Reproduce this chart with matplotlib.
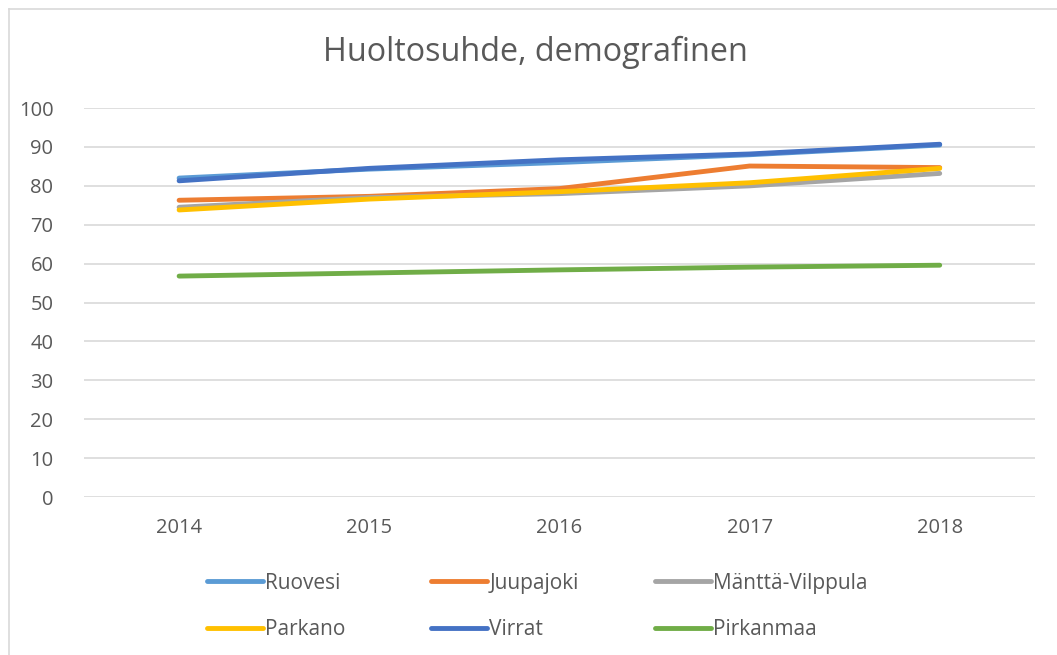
import matplotlib.pyplot as plt
from matplotlib.lines import Line2D

plt.rcParams['font.family'] = ['Open Sans', 'DejaVu Sans']

years = ['2014', '2015', '2016', '2017', '2018']
ruovesi = [82.0, 84.3, 86.0, 88.0, 90.5]
juupajoki = [76.3, 77.3, 79.3, 85.1, 84.7]
mantta = [74.5, 77.0, 78.0, 80.0, 83.2]
parkano = [73.8, 76.6, 78.5, 80.8, 84.5]
virrat = [81.3, 84.5, 86.7, 88.2, 90.7]
pirkanmaa = [56.8, 57.6, 58.4, 59.1, 59.6]

names = ['Ruovesi', 'Juupajoki', 'Mänttä-Vilppula', 'Parkano', 'Virrat', 'Pirkanmaa']
series = [ruovesi, juupajoki, mantta, parkano, virrat, pirkanmaa]
colors = ['#5b9bd5', '#ed7d31', '#a5a5a5', '#ffc000', '#4472c4', '#70ad47']

fig = plt.figure(figsize=(10.57, 6.55), dpi=100)
ax = fig.add_axes([0.0795, 0.2412, 0.8995, 0.5938])

x = range(len(years))
for vals, c in zip(series, colors):
    ax.plot(x, vals, color=c, lw=3.5, solid_capstyle='round', solid_joinstyle='round')

ax.set_xlim(-0.5, len(years) - 0.5)
ax.set_ylim(0, 100)
ax.set_yticks(range(0, 101, 10))
ax.set_xticks(list(x))
ax.set_xticklabels(years)
ax.grid(axis='y', color='#d9d9d9', lw=1.2)
ax.set_axisbelow(True)
for s in ax.spines.values():
    s.set_visible(False)
ax.tick_params(length=0, labelsize=14.5, colors='#595959')
ax.tick_params(axis='y', pad=22)
ax.tick_params(axis='x', pad=15)

fig.text(0.507, 0.92, 'Huoltosuhde, demografinen', ha='center', va='center',
         fontsize=23.3, color='#595959')

# legend: three columns, two rows each
col_x = [207, 431, 655]
for k in range(3):
    idx = [k, k + 3]
    hs = [Line2D([0], [0], color=colors[i], lw=3.5, solid_capstyle='round') for i in idx]
    fig.legend(hs, [names[i] for i in idx], loc='center left',
               bbox_to_anchor=(col_x[k] / 1057, 0.074), frameon=False,
               fontsize=15, labelcolor='#595959', handlelength=2.7,
               handletextpad=0.1, labelspacing=1.24, borderpad=0, borderaxespad=0)

# chart border (top and left visible)
fig.add_artist(Line2D([9 / 1057, 9 / 1057], [0, 1 - 9 / 655], color='#d9d9d9', lw=1.2))
fig.add_artist(Line2D([9 / 1057, 1], [1 - 9 / 655, 1 - 9 / 655], color='#d9d9d9', lw=1.2))

fig.savefig('out.png', dpi=100)
